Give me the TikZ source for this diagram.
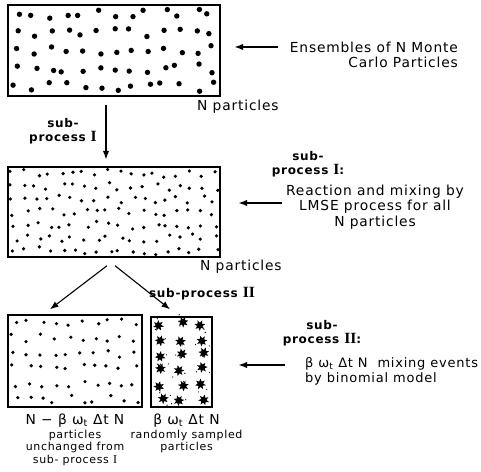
\documentclass[tikz,border=0pt]{standalone}
\usepackage{fontspec}
\setmainfont{DejaVu Sans}[LetterSpace=6.0]
\newfontfamily\romfont{Liberation Serif}[Scale=1.3]
\newfontfamily\romsmall{Liberation Serif}[Scale=1.1]
\usetikzlibrary{arrows.meta,positioning,shapes.geometric}

\newcommand{\rn}[1]{{\romfont #1}}

\tikzset{
  ensbox/.style={draw, line width=1.4pt, inner sep=0pt},
  lbl/.style={font=\fontsize{13.8}{15.5}\selectfont, align=center, inner sep=0pt},
  smlbl/.style={font=\fontsize{11}{12.5}\selectfont, align=center, inner sep=0pt},
  sublbl/.style={font=\bfseries\fontsize{12}{13.5}\selectfont, align=center, inner sep=0pt},
  arr/.style={-{Latex[length=8.5pt,width=6.5pt]}, line width=1.1pt},
  splat/.style={star, star points=7, star point ratio=2, fill, inner sep=0pt, minimum size=11pt},
}

\begin{document}
\begin{tikzpicture}[x=1pt,y=-1pt]
\useasboundingbox (0,0) rectangle (481,471);

% ensemble of N particles
\node[ensbox, minimum width=212pt, minimum height=91pt] (ens) at (114,50.5) {};
\pgfmathsetseed{11}
\foreach \i in {0,...,12}
  \foreach \j in {0,...,4}{
    \pgfmathsetmacro\px{8+(\i+0.5)*16.3+5*rand}
    \pgfmathsetmacro\py{5+(\j+0.5)*18.2+5*rand}
    \fill (\px,\py) circle (2.7pt);
  }
\node[lbl, anchor=west] (np1) at (197,107) {N particles};
\node[lbl, anchor=east, align=right] (ensl) at (458,55) {Ensembles of N Monte\\Carlo Particles};
\coordinate (a1) at (278,47);
\draw[arr, shorten >=14pt] (a1) -- (a1 -| ens.east);

% sub-process I
\node[ensbox, minimum width=212pt, minimum height=90pt] (mix) at (114,212) {};
\pgfmathsetseed{23}
\foreach \i in {0,...,17}
  \foreach \j in {0,...,6}{
    \pgfmathsetmacro\px{8+(\i+0.5)*11.8+4*rand}
    \pgfmathsetmacro\py{167+(\j+0.5)*12.9+4*rand}
    \fill (\px,\py) circle (1.8pt);
  }
\draw[arr] ([xshift=-8pt,yshift=-8pt]ens.south) -- ([xshift=-8pt,yshift=7pt]mix.north);
\node[sublbl] (sp1) at (63,131) {sub-\\process \rn{I}};
\node[lbl, anchor=west] (np2) at (200,267) {N particles};
\node[sublbl] (sp1b) at (308,164) {sub-\\process \rn{I}:};
\node[lbl] (mixl) at (375,207) {Reaction and mixing by\\LMSE process for all\\N particles};
\coordinate (a2) at (282,203);
\draw[arr, shorten >=18pt] (a2) -- (a2 -| mix.east);

% sub-process II
\node[ensbox, minimum width=134pt, minimum height=92pt] (keep) at (75,361) {};
\pgfmathsetseed{5}
\foreach \i in {0,...,9}
  \foreach \j in {0,...,5}{
    \pgfmathsetmacro\px{8+(\i+0.5)*13.4+4*rand}
    \pgfmathsetmacro\py{315+(\j+0.5)*15.3+4*rand}
    \fill (\px,\py) circle (1.8pt);
  }
\node[ensbox, minimum width=61pt, minimum height=90pt] (samp) at (181.5,362) {};
\pgfmathsetseed{3}
\foreach \i in {0,...,2}
  \foreach \j in {0,...,5}{
    \pgfmathsetmacro\px{151+(\i+0.5)*20.3+3*rand}
    \pgfmathsetmacro\py{317+(\j+0.5)*15+2.5*rand}
    \pgfmathsetmacro\rr{180*rand}
    \node[splat, rotate=\rr] at (\px,\py) {};
    \fill (\px+8*rand,\py+8*rand) circle (0.7pt);
    \fill (\px+8*rand,\py+8*rand) circle (0.6pt);
  }
\draw[arr] ([xshift=-7pt,yshift=-8pt]mix.south) -- ([xshift=-25pt,yshift=5pt]keep.north);
\draw[arr] ([xshift=1pt,yshift=-8pt]mix.south) -- ([xshift=-11.5pt,yshift=7pt]samp.north);
\node[sublbl] (sp2) at (202,294) {sub-process \rn{II}};
\node[sublbl] (sp2b) at (322,333) {sub-\\process \rn{II}:};
\node[lbl, font=\fontsize{13}{15}\selectfont, anchor=west, align=left] (binl) at (305,371) {β ω\textsubscript{t} Δt N~~mixing events\\by binomial model};
\coordinate (a3) at (285,365);
\draw[arr, shorten >=26pt] (a3) -- (a3 -| samp.east);

\node[lbl, anchor=north] (keepl) at ([yshift=-6pt]keep.south) {N − β ω\textsubscript{t} Δt N};
\node[smlbl, below=2pt of keepl] (keepm) {particles\\unchanged from\\sub- process {\romsmall I}};
\node[lbl, anchor=north] (sampl) at ([xshift=5pt,yshift=-6pt]samp.south) {β ω\textsubscript{t} Δt N};
\node[smlbl, below=2pt of sampl] (sampm) {randomly sampled\\particles};
\end{tikzpicture}
\end{document}
